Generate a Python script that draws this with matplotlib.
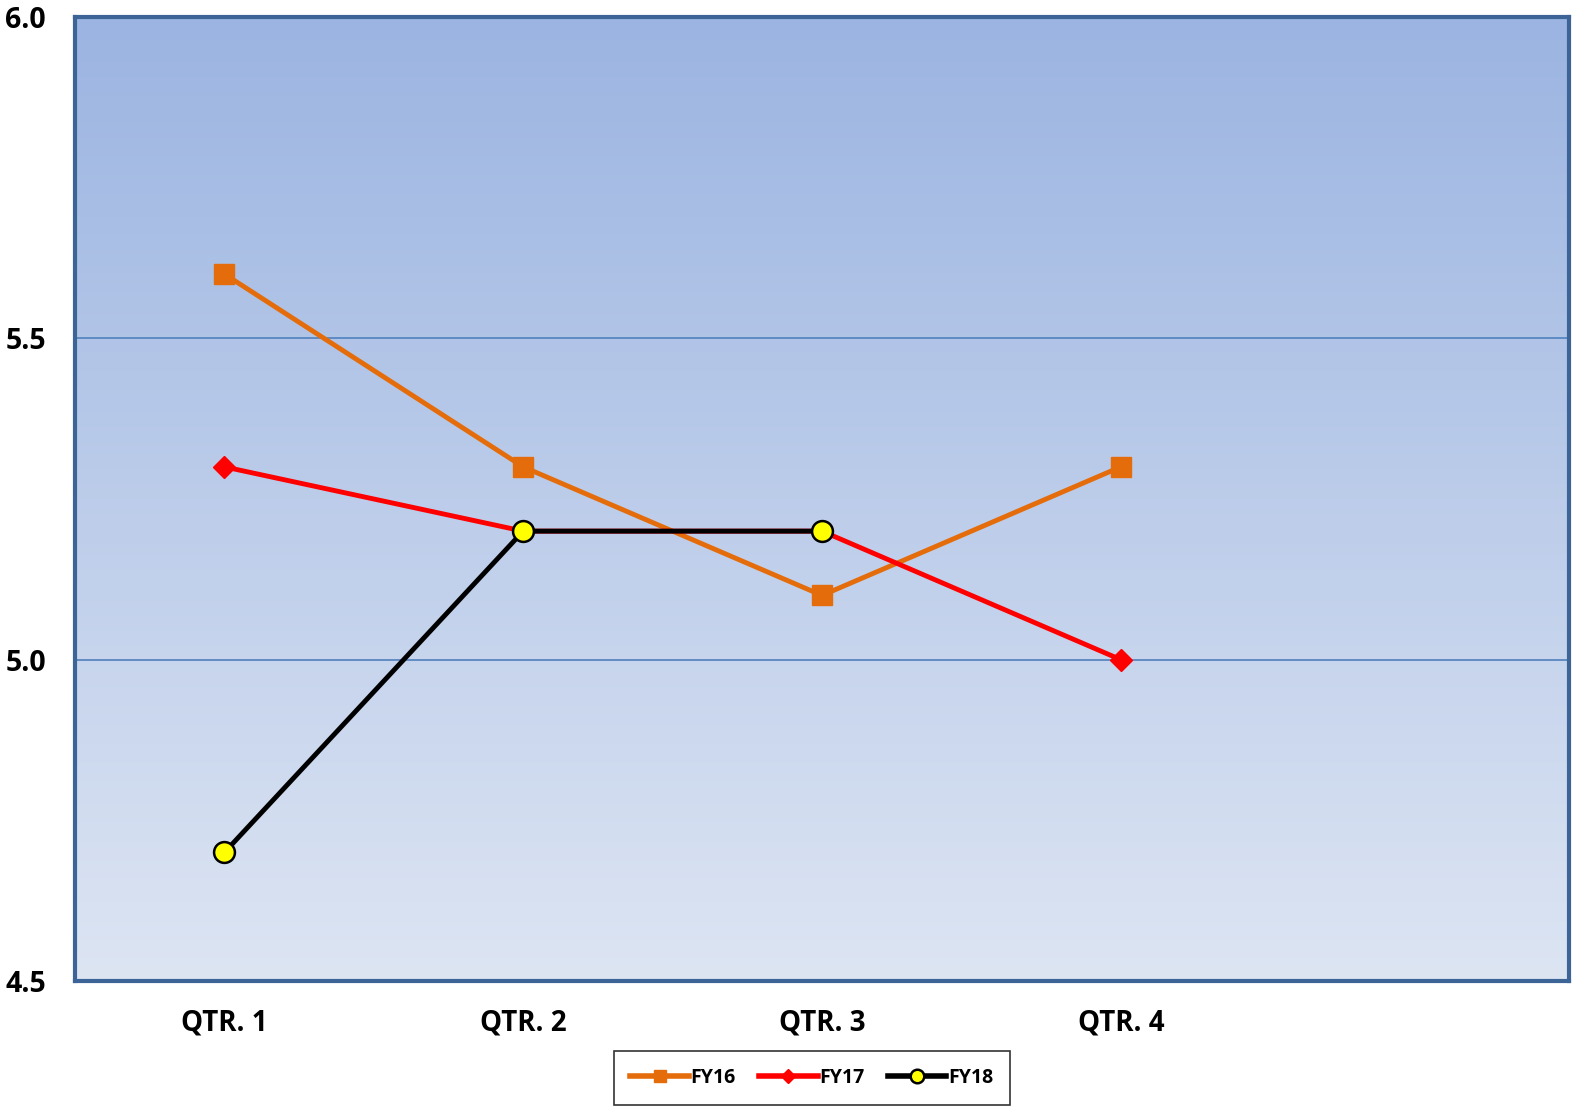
import numpy as np
import matplotlib.pyplot as plt
from matplotlib.colors import LinearSegmentedColormap

# data
quarters = ["QTR. 1", "QTR. 2", "QTR. 3", "QTR. 4", ""]
fy16 = [5.6, 5.3, 5.1, 5.3]
fy17 = [5.3, 5.2, 5.2, 5.0]
fy18 = [4.7, 5.2, 5.2]
yticks = [4.5, 5.0, 5.5, 6.0]

plt.rcParams['font.family'] = ['Open Sans', 'DejaVu Sans']
plt.rcParams['font.weight'] = 'bold'

fig = plt.figure(figsize=(15.75, 11.11), dpi=100)
ax = fig.add_axes([75 / 1575, 1 - 981 / 1111, (1569 - 75) / 1575, (981 - 17) / 1111])

# gradient background
cmap = LinearSegmentedColormap.from_list("bg", ["#DDE5F3", "#9BB4E1"])
grad = np.linspace(0, 1, 256).reshape(-1, 1)
ax.imshow(grad, cmap=cmap, aspect='auto', origin='lower',
          extent=[-0.5, 4.5, 4.5, 6.0], zorder=0)

for y in [5.0, 5.5]:
    ax.axhline(y, color="#4F81BD", lw=1.2, zorder=1)

x = np.arange(len(quarters))
ax.plot(x[:len(fy16)], fy16, color="#E46C0A", lw=3.5, marker='s', ms=14,
        label="FY16", zorder=3)
ax.plot(x[:len(fy17)], fy17, color="#FF0000", lw=3.5, marker='D', ms=11,
        label="FY17", zorder=3)
ax.plot(x[:len(fy18)], fy18, color="black", lw=3.5, marker='o', ms=15,
        mfc="#FFFF00", mec="black", mew=1.8, label="FY18", zorder=4)

ax.set_xlim(-0.5, 4.5)
ax.set_ylim(4.5, 6.0)
ax.set_xticks(x)
ax.set_xticklabels(quarters, fontsize=20, fontweight='bold')
ax.set_yticks(yticks)
ax.set_yticklabels([f"{v:.1f}" for v in yticks], fontsize=20.5, fontweight='bold')
ax.tick_params(axis='x', length=0, pad=20)
ax.tick_params(axis='y', length=0, pad=21)

for s in ax.spines.values():
    s.set_color("#3C6496")
    s.set_linewidth(3)

leg = fig.legend(loc='center', bbox_to_anchor=(812 / 1575, 1 - 1078 / 1111),
                 ncol=3, fontsize=14, frameon=True, fancybox=False,
                 handlelength=3.0, columnspacing=1.2, handletextpad=0.1,
                 borderpad=0.85, markerscale=0.65)
leg.get_frame().set_edgecolor("black")
leg.get_frame().set_linewidth(1.2)
for t in leg.get_texts():
    t.set_fontweight('bold')
for h in leg.get_lines():
    h.set_linewidth(4)

fig.savefig("out.png", dpi=100)
